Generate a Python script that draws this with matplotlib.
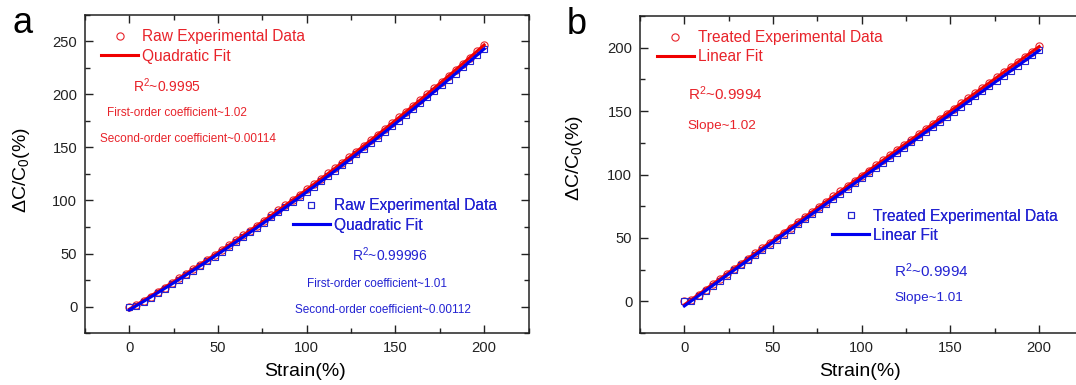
import numpy as np
import matplotlib
matplotlib.use("Agg")
import matplotlib.pyplot as plt
from matplotlib.ticker import MultipleLocator

plt.rcParams['font.family'] = ['Liberation Sans', 'DejaVu Sans']
plt.rcParams['mathtext.fontset'] = 'custom'
plt.rcParams['mathtext.rm'] = 'Liberation Sans'
plt.rcParams['mathtext.it'] = 'Liberation Sans:italic'

# strain (%) - same sampling in both panels
strain = [0, 4, 8, 12, 16, 20, 24, 28, 32, 36, 40, 44, 48, 52, 56, 60, 64, 68, 72, 76,
          80, 84, 88, 92, 96, 100, 104, 108, 112, 116, 120, 124, 128, 132, 136, 140,
          144, 148, 152, 156, 160, 164, 168, 172, 176, 180, 184, 188, 192, 196, 200]

# panel a: raw data
raw_red = [0, 1.1, 5.2, 9.4, 13.6, 17.9, 22.1, 26.5, 30.8, 35.2, 39.6, 44.1, 48.6,
           53.1, 57.7, 62.3, 67.0, 71.6, 76.4, 81.1, 85.9, 90.7, 95.6, 100.5, 105.4,
           110.4, 115.4, 120.5, 125.5, 130.7, 135.8, 141.0, 146.2, 151.5, 156.8, 162.1,
           167.5, 172.9, 178.4, 183.9, 189.4, 194.9, 200.5, 206.2, 211.8, 217.5, 223.3,
           229.1, 234.9, 240.7, 246.6]
raw_blue = [0, 0.5, 4.2, 8.3, 12.5, 16.7, 20.9, 25.2, 29.5, 33.8, 38.2, 42.6, 47.1,
            51.6, 56.1, 60.6, 65.2, 69.9, 74.5, 79.2, 84.0, 88.7, 93.6, 98.4, 103.3,
            108.2, 113.2, 118.1, 123.2, 128.2, 133.3, 138.5, 143.6, 148.8, 154.1, 159.4,
            164.7, 170.0, 175.4, 180.8, 186.3, 191.8, 197.3, 202.9, 208.5, 214.1, 219.8,
            225.5, 231.2, 237.0, 242.8]

# panel b: treated data
treated_red = [0, 1.1, 5.2, 9.2, 13.3, 17.4, 21.5, 25.6, 29.6, 33.7, 37.8, 41.9, 46.0,
               50.0, 54.1, 58.2, 62.3, 66.4, 70.4, 74.5, 78.6, 82.7, 86.8, 90.8, 94.9,
               99.0, 103.1, 107.2, 111.2, 115.3, 119.4, 123.5, 127.6, 131.6, 135.7,
               139.8, 143.9, 148.0, 152.0, 156.1, 160.2, 164.3, 168.4, 172.4, 176.5,
               180.6, 184.7, 188.8, 192.8, 196.9, 201.0]
treated_blue = [0, 0.3, 4.1, 8.1, 12.2, 16.2, 20.2, 24.3, 28.3, 32.4, 36.4, 40.4, 44.5,
                48.5, 52.6, 56.6, 60.6, 64.7, 68.7, 72.8, 76.8, 80.8, 84.9, 88.9, 93.0,
                97.0, 101.0, 105.1, 109.1, 113.2, 117.2, 121.2, 125.3, 129.3, 133.4,
                137.4, 141.4, 145.5, 149.5, 153.6, 157.6, 161.6, 165.7, 169.7, 173.8,
                177.8, 181.8, 185.9, 189.9, 194.0, 198.0]

red = '#e8232a'
blue = '#2323d2'
line_red = '#f00000'
line_blue = '#0000f0'

fig = plt.figure(figsize=(10.76, 3.85), dpi=100)
ax_a = fig.add_axes([85 / 1076, 52 / 385, 443.5 / 1076, 318 / 385])
ax_b = fig.add_axes([640 / 1076, 52 / 385, 443.5 / 1076, 317 / 385])


def draw_panel(ax, y_red, y_blue, deg, fit_name, data_name, ylim):
    x = np.array(strain)
    p_red = np.polyfit(x, y_red, deg)
    p_blue = np.polyfit(x, y_blue, deg)
    ax.plot(x, y_red, 'o', ms=5.2, mfc='none', mec=red, mew=0.8, label=data_name)
    ax.plot(x, y_blue, 's', ms=4.6, mfc='none', mec=blue, mew=0.8, label=data_name)
    ax.plot(x, np.polyval(p_red, x), '-', color=line_red, lw=2.2, label=fit_name)
    ax.plot(x, np.polyval(p_blue, x), '-', color=line_blue, lw=2.2, label=fit_name)
    ax.set_xlim(-25, 225)
    ax.set_ylim(*ylim)
    ax.xaxis.set_major_locator(MultipleLocator(50))
    ax.xaxis.set_minor_locator(MultipleLocator(25))
    ax.yaxis.set_major_locator(MultipleLocator(50))
    ax.yaxis.set_minor_locator(MultipleLocator(25))
    ax.tick_params(which='both', direction='in', top=True, right=True,
                   labelsize=10.6, pad=5.5, width=1.0, colors='#222222')
    ax.tick_params(which='major', length=6)
    ax.tick_params(which='minor', length=3.5)
    for s in ax.spines.values():
        s.set_linewidth(1.1)
        s.set_color('#222222')
    ax.set_xlabel('Strain(%)', fontsize=14)
    ax.set_ylabel('ΔC/C$_{\\mathregular{0}}$(%)', fontsize=14)
    ax.xaxis.set_label_coords(0.495, -0.095)
    return ax.get_lines()


def add_legend(ax, handles, color, anchor):
    leg = ax.legend(handles=handles, loc='center left', bbox_to_anchor=anchor,
                    bbox_transform=ax.transData, frameon=False, fontsize=11.2,
                    handlelength=2.4, handletextpad=0.25, labelspacing=0.28,
                    borderpad=0, borderaxespad=0, labelcolor=color, numpoints=1)
    ax.add_artist(leg)


la = draw_panel(ax_a, raw_red, raw_blue, 2, 'Quadratic Fit', 'Raw Experimental Data', (-25, 275))
add_legend(ax_a, [la[0], la[2]], red, (-16, 245.3))
add_legend(ax_a, [la[1], la[3]], blue, (92, 85.8))
ax_a.yaxis.set_label_coords(-0.12, 0.513)

ax_a.text(2.1, 208, 'R$^{\\mathregular{2}}$~0.9995', color=red, fontsize=10, va='center')
ax_a.text(-12.6, 182.5, 'First-order coefficient~1.02', color=red, fontsize=8.5, va='center')
ax_a.text(-16.5, 157.9, 'Second-order coefficient~0.00114', color=red, fontsize=8.5, va='center')
ax_a.text(125.4, 49, 'R$^{\\mathregular{2}}$~0.99996', color=blue, fontsize=10, va='center')
ax_a.text(100.1, 21.5, 'First-order coefficient~1.01', color=blue, fontsize=8.5, va='center')
ax_a.text(93.4, -3, 'Second-order coefficient~0.00112', color=blue, fontsize=8.5, va='center')

lb = draw_panel(ax_b, treated_red, treated_blue, 1, 'Linear Fit', 'Treated Experimental Data', (-25, 225))
add_legend(ax_b, [lb[0], lb[2]], red, (-15.6, 200.3))
add_legend(ax_b, [lb[1], lb[3]], blue, (83.2, 59.6))
ax_b.yaxis.set_label_coords(-0.124, 0.553)

ax_b.text(1.9, 163.8, 'R$^{\\mathregular{2}}$~0.9994', color=red, fontsize=11, va='center')
ax_b.text(1.9, 138, 'Slope~1.02', color=red, fontsize=9.7, va='center')
ax_b.text(118.4, 24.4, 'R$^{\\mathregular{2}}$~0.9994', color=blue, fontsize=11, va='center')
ax_b.text(118.4, 2.6, 'Slope~1.01', color=blue, fontsize=9.7, va='center')

fig.text(12 / 1076, 1 - 33 / 385, 'a', fontsize=26, va='baseline')
fig.text(567 / 1076, 1 - 34 / 385, 'b', fontsize=26, va='baseline')

fig.savefig('out.png', dpi=100)
